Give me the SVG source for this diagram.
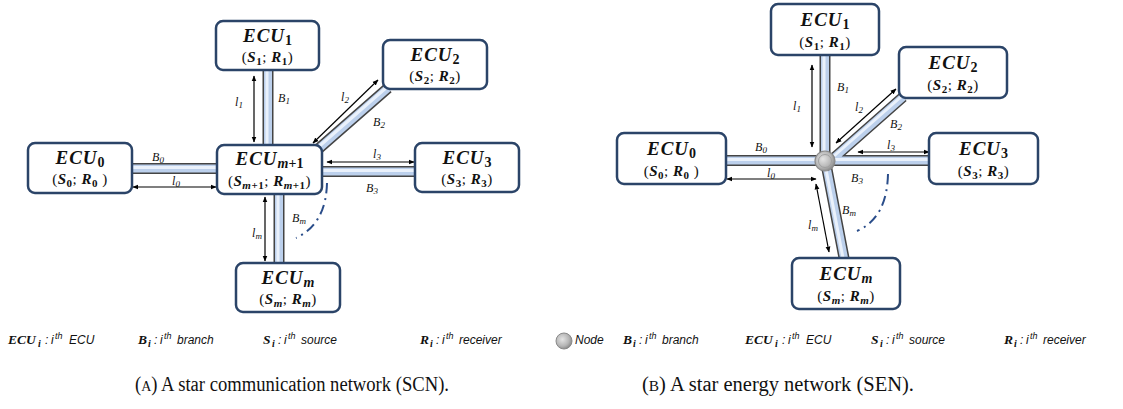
<svg xmlns="http://www.w3.org/2000/svg" width="1123" height="409" viewBox="0 0 1123 409">
<style>
.box{fill:#fff;stroke:#2b4468;stroke-width:2.5}
.to{stroke:#444;stroke-width:11;fill:none}
.tm{stroke:#bcd0ec;stroke-width:8;fill:none}
.th{stroke:#eaf1fb;stroke-width:3;fill:none}
.ar{stroke:#000;stroke-width:1.2;fill:none;marker-start:url(#ah);marker-end:url(#ah)}
.t1{font-family:"Liberation Serif",serif;font-weight:bold;font-style:italic;font-size:19px;letter-spacing:1px;text-anchor:middle;fill:#111}
.t1 .s{font-size:14px;font-style:normal;letter-spacing:0}
.t2{font-family:"Liberation Serif",serif;font-size:15px;letter-spacing:0.5px;text-anchor:middle;fill:#111}
.bi{font-weight:bold;font-style:italic}
.s2{font-size:11px;font-weight:bold}
.t1 .it,.t2 .it{font-style:italic}
.lab{font-family:"Liberation Serif",serif;font-style:italic;font-size:12px;fill:#111;text-anchor:middle}
.lab .s{font-size:9px}
.lg{font-family:"Liberation Sans",sans-serif;font-style:italic;font-size:12px;fill:#111}
.lg .b{font-family:"Liberation Serif",serif;font-weight:bold;font-size:13.5px}
.lg .sb{font-family:"Liberation Serif",serif;font-weight:bold;font-size:10px}
.lg .sp{font-size:9px}
.cap{font-family:"Liberation Serif",serif;font-size:20px;fill:#111}
.arc{stroke:#2a4d8a;stroke-width:2;fill:none;stroke-dasharray:10 5 2 5}
</style>
<defs>
<marker id="ah" viewBox="0 0 10 10" refX="9" refY="5" markerWidth="6" markerHeight="6" orient="auto-start-reverse" markerUnits="userSpaceOnUse"><path d="M0,1 L10,5 L0,9 z" fill="#000"/></marker>
<radialGradient id="ng" cx="0.4" cy="0.4" r="0.6"><stop offset="0" stop-color="#e4e4e4"/><stop offset="0.7" stop-color="#b5b5b5"/><stop offset="1" stop-color="#8f8f8f"/></radialGradient>
</defs>

<g id="connectors">
<g id="scn-branches">
<path class="to" d="M268,70 V145 M132,168.5 H217 M322,171.5 H415 M279,194 V263 M316,151 L388,88"/>
<path class="tm" d="M268,70 V145 M132,168.5 H217 M322,171.5 H415 M279,194 V263 M316,151 L388,88"/>
<path class="th" d="M267,70 V145 M132,167.5 H217 M322,170.5 H415 M278,194 V263 M315,150 L387,87"/>
</g>
<g id="scn-lengths">
<line class="ar" x1="254" y1="76" x2="254" y2="142"/>
<line class="ar" x1="313" y1="143" x2="378" y2="80"/>
<line class="ar" x1="327" y1="162" x2="414" y2="162"/>
<line class="ar" x1="133" y1="187" x2="216" y2="187"/>
<line class="ar" x1="265" y1="197" x2="265" y2="261"/>
</g>
<path class="arc" d="M327,183 Q326,224 296,238"/>
<g id="sen-branches">
<path class="to" d="M825,55 V161 M726,160.5 H825 M825,160.5 H929 M826,164 L844,258 M835,157 L903,97"/>
<path class="tm" d="M825,55 V161 M726,160.5 H825 M825,160.5 H929 M826,164 L844,258 M835,157 L903,97"/>
<path class="th" d="M824,55 V161 M726,159.5 H825 M825,159.5 H929 M825,164 L843,258 M834,156 L902,96"/>
</g>
<g id="sen-lengths">
<line class="ar" x1="812" y1="65" x2="812" y2="147"/>
<line class="ar" x1="836" y1="143" x2="896" y2="89"/>
<line class="ar" x1="858" y1="152" x2="929" y2="152"/>
<line class="ar" x1="727" y1="179" x2="816" y2="179"/>
<line class="ar" x1="816" y1="184" x2="829" y2="252"/>
</g>
<path class="arc" d="M888,174 Q887,218 857,231"/>
</g>

<g id="scn-labels">
<text class="lab" x="239" y="106">l<tspan class="s" dy="2">1</tspan></text>
<text class="lab" x="284" y="102">B<tspan class="s" dy="2">1</tspan></text>
<text class="lab" x="345" y="101">l<tspan class="s" dy="2">2</tspan></text>
<text class="lab" x="379" y="126">B<tspan class="s" dy="2">2</tspan></text>
<text class="lab" x="377" y="158">l<tspan class="s" dy="2">3</tspan></text>
<text class="lab" x="372" y="192">B<tspan class="s" dy="2">3</tspan></text>
<text class="lab" x="176" y="185">l<tspan class="s" dy="2">0</tspan></text>
<text class="lab" x="158" y="161">B<tspan class="s" dy="2">0</tspan></text>
<text class="lab" x="257" y="237">l<tspan class="s" dy="2">m</tspan></text>
<text class="lab" x="299" y="222">B<tspan class="s" dy="2">m</tspan></text>
</g>
<g id="sen-labels">
<text class="lab" x="797" y="110">l<tspan class="s" dy="2">1</tspan></text>
<text class="lab" x="843" y="91">B<tspan class="s" dy="2">1</tspan></text>
<text class="lab" x="859" y="111">l<tspan class="s" dy="2">2</tspan></text>
<text class="lab" x="896" y="128">B<tspan class="s" dy="2">2</tspan></text>
<text class="lab" x="891" y="149">l<tspan class="s" dy="2">3</tspan></text>
<text class="lab" x="857" y="182">B<tspan class="s" dy="2">3</tspan></text>
<text class="lab" x="771" y="177">l<tspan class="s" dy="2">0</tspan></text>
<text class="lab" x="761" y="151">B<tspan class="s" dy="2">0</tspan></text>
<text class="lab" x="813" y="229">l<tspan class="s" dy="2">m</tspan></text>
<text class="lab" x="849" y="214">B<tspan class="s" dy="2">m</tspan></text>
</g>

<g id="scn-ecu1"><rect class="box" x="216" y="21" width="103" height="49" rx="7"/>
<text class="t1" x="267.5" y="42">ECU<tspan class="s" dy="3">1</tspan></text>
<text class="t2" x="267.5" y="62">(<tspan class="bi">S</tspan><tspan class="s2" dy="3">1</tspan><tspan dy="-3">; </tspan><tspan class="bi">R</tspan><tspan class="s2" dy="3">1</tspan><tspan dy="-3">)</tspan></text></g>
<g id="scn-ecu2"><rect class="box" x="383" y="40" width="104" height="49" rx="7"/>
<text class="t1" x="435" y="61">ECU<tspan class="s" dy="3">2</tspan></text>
<text class="t2" x="435" y="81">(<tspan class="bi">S</tspan><tspan class="s2" dy="3">2</tspan><tspan dy="-3">; </tspan><tspan class="bi">R</tspan><tspan class="s2" dy="3">2</tspan><tspan dy="-3">)</tspan></text></g>
<g id="scn-ecu0"><rect class="box" x="28" y="143" width="104" height="50" rx="7"/>
<text class="t1" x="80" y="164">ECU<tspan class="s" dy="3">0</tspan></text>
<text class="t2" x="80" y="184">(<tspan class="bi">S</tspan><tspan class="s2" dy="3">0</tspan><tspan dy="-3">; </tspan><tspan class="bi">R</tspan><tspan class="s2" dy="3">0</tspan><tspan dy="-3"> )</tspan></text></g>
<g id="scn-ecum1"><rect class="box" x="217" y="145" width="105" height="49" rx="7"/>
<text class="t1" x="269.5" y="165">ECU<tspan class="s" dy="3"><tspan class="it">m</tspan>+1</tspan></text>
<text class="t2" x="269.5" y="186">(<tspan class="bi">S</tspan><tspan class="s2" dy="3"><tspan class="it">m</tspan>+1</tspan><tspan dy="-3">; </tspan><tspan class="bi">R</tspan><tspan class="s2" dy="3"><tspan class="it">m</tspan>+1</tspan><tspan dy="-3">)</tspan></text></g>
<g id="scn-ecu3"><rect class="box" x="415" y="143" width="104" height="49" rx="7"/>
<text class="t1" x="467" y="164">ECU<tspan class="s" dy="3">3</tspan></text>
<text class="t2" x="467" y="184">(<tspan class="bi">S</tspan><tspan class="s2" dy="3">3</tspan><tspan dy="-3">; </tspan><tspan class="bi">R</tspan><tspan class="s2" dy="3">3</tspan><tspan dy="-3">)</tspan></text></g>
<g id="scn-ecum"><rect class="box" x="236" y="263" width="104" height="49" rx="7"/>
<text class="t1" x="288" y="284">ECU<tspan class="s it" dy="3">m</tspan></text>
<text class="t2" x="288" y="304">(<tspan class="bi">S</tspan><tspan class="s2 it" dy="3">m</tspan><tspan dy="-3">; </tspan><tspan class="bi">R</tspan><tspan class="s2 it" dy="3">m</tspan><tspan dy="-3">)</tspan></text></g>

<g id="sen-node"><circle cx="825" cy="161" r="10" fill="url(#ng)" stroke="#8a8a8a" stroke-width="1.2"/><circle cx="825" cy="161" r="6.5" fill="none" stroke="#a0a0a0" stroke-width="1"/></g>
<g id="sen-ecu1"><rect class="box" x="771" y="4" width="108" height="51" rx="7"/>
<text class="t1" x="825" y="26">ECU<tspan class="s" dy="3">1</tspan></text>
<text class="t2" x="825" y="47">(<tspan class="bi">S</tspan><tspan class="s2" dy="3">1</tspan><tspan dy="-3">; </tspan><tspan class="bi">R</tspan><tspan class="s2" dy="3">1</tspan><tspan dy="-3">)</tspan></text></g>
<g id="sen-ecu2"><rect class="box" x="899" y="47" width="108" height="51" rx="7"/>
<text class="t1" x="953" y="69">ECU<tspan class="s" dy="3">2</tspan></text>
<text class="t2" x="953" y="90">(<tspan class="bi">S</tspan><tspan class="s2" dy="3">2</tspan><tspan dy="-3">; </tspan><tspan class="bi">R</tspan><tspan class="s2" dy="3">2</tspan><tspan dy="-3">)</tspan></text></g>
<g id="sen-ecu0"><rect class="box" x="617" y="133" width="109" height="51" rx="7"/>
<text class="t1" x="671.5" y="155">ECU<tspan class="s" dy="3">0</tspan></text>
<text class="t2" x="671.5" y="176">(<tspan class="bi">S</tspan><tspan class="s2" dy="3">0</tspan><tspan dy="-3">; </tspan><tspan class="bi">R</tspan><tspan class="s2" dy="3">0</tspan><tspan dy="-3"> )</tspan></text></g>
<g id="sen-ecu3"><rect class="box" x="929" y="133" width="109" height="51" rx="7"/>
<text class="t1" x="983.5" y="155">ECU<tspan class="s" dy="3">3</tspan></text>
<text class="t2" x="983.5" y="176">(<tspan class="bi">S</tspan><tspan class="s2" dy="3">3</tspan><tspan dy="-3">; </tspan><tspan class="bi">R</tspan><tspan class="s2" dy="3">3</tspan><tspan dy="-3">)</tspan></text></g>
<g id="sen-ecum"><rect class="box" x="792" y="258" width="108" height="51" rx="7"/>
<text class="t1" x="846" y="280">ECU<tspan class="s it" dy="3">m</tspan></text>
<text class="t2" x="846" y="301">(<tspan class="bi">S</tspan><tspan class="s2 it" dy="3">m</tspan><tspan dy="-3">; </tspan><tspan class="bi">R</tspan><tspan class="s2 it" dy="3">m</tspan><tspan dy="-3">)</tspan></text></g>

<g id="legend">
<text class="lg" y="344"><tspan class="b" x="8">ECU</tspan><tspan class="sb" x="38" y="347">i</tspan><tspan x="45" y="344">:</tspan><tspan x="51">i</tspan><tspan class="sp" x="55" y="339">th</tspan><tspan x="69" y="344">ECU</tspan></text>
<text class="lg" y="344"><tspan class="b" x="138">B</tspan><tspan class="sb" x="148" y="347">i</tspan><tspan x="154" y="344">:</tspan><tspan x="160">i</tspan><tspan class="sp" x="164" y="339">th</tspan><tspan x="177" y="344">branch</tspan></text>
<text class="lg" y="344"><tspan class="b" x="263">S</tspan><tspan class="sb" x="272" y="347">i</tspan><tspan x="278" y="344">:</tspan><tspan x="284">i</tspan><tspan class="sp" x="288" y="339">th</tspan><tspan x="301" y="344">source</tspan></text>
<text class="lg" y="344"><tspan class="b" x="420">R</tspan><tspan class="sb" x="430" y="347">i</tspan><tspan x="436" y="344">:</tspan><tspan x="442">i</tspan><tspan class="sp" x="446" y="339">th</tspan><tspan x="459" y="344">receiver</tspan></text>
<circle cx="564" cy="341" r="8" fill="url(#ng)" stroke="#8a8a8a" stroke-width="1"/>
<text class="lg" x="575" y="344">Node</text>
<text class="lg" y="344"><tspan class="b" x="623">B</tspan><tspan class="sb" x="633" y="347">i</tspan><tspan x="639" y="344">:</tspan><tspan x="645">i</tspan><tspan class="sp" x="649" y="339">th</tspan><tspan x="662" y="344">branch</tspan></text>
<text class="lg" y="344"><tspan class="b" x="745">ECU</tspan><tspan class="sb" x="775" y="347">i</tspan><tspan x="782" y="344">:</tspan><tspan x="788">i</tspan><tspan class="sp" x="792" y="339">th</tspan><tspan x="806" y="344">ECU</tspan></text>
<text class="lg" y="344"><tspan class="b" x="871">S</tspan><tspan class="sb" x="880" y="347">i</tspan><tspan x="886" y="344">:</tspan><tspan x="892">i</tspan><tspan class="sp" x="896" y="339">th</tspan><tspan x="909" y="344">source</tspan></text>
<text class="lg" y="344"><tspan class="b" x="1004">R</tspan><tspan class="sb" x="1014" y="347">i</tspan><tspan x="1020" y="344">:</tspan><tspan x="1026">i</tspan><tspan class="sp" x="1030" y="339">th</tspan><tspan x="1043" y="344">receiver</tspan></text>
</g>

<g id="captions">
<text class="cap" x="135" y="391" textLength="314" lengthAdjust="spacingAndGlyphs">(<tspan font-size="15">A</tspan>) A star communication network (SCN).</text>
<text class="cap" x="642" y="391" textLength="272" lengthAdjust="spacingAndGlyphs">(<tspan font-size="15">B</tspan>) A star energy network (SEN).</text>
</g>
</svg>
